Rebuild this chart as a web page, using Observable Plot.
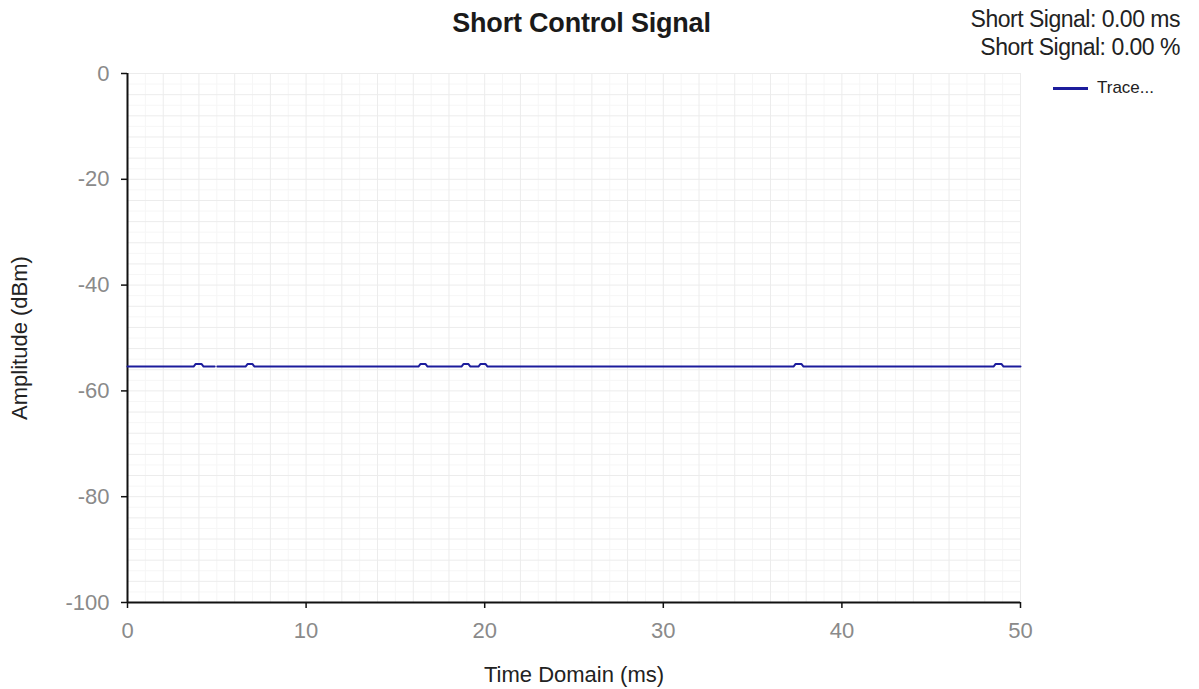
<!DOCTYPE html>
<html>
<head>
<meta charset="utf-8">
<script src="https://cdn.jsdelivr.net/npm/d3@7"></script>
<script src="https://cdn.jsdelivr.net/npm/@observablehq/plot@0.6"></script>
<style>
  html, body { margin: 0; padding: 0; background: #fff; }
  #wrap { position: relative; width: 1199px; height: 689px; font-family: "Liberation Sans", Arial, sans-serif; }
  .ov { position: absolute; white-space: nowrap; color: #222; }
  #title { left: 0; width: 1163px; top: 8px; text-align: center; font-weight: bold; font-size: 27px; color: #1a1a1a; letter-spacing: -0.2px; }
  .stat { right: 19px; font-size: 23px; letter-spacing: -0.5px; }
  #legend { left: 1053px; top: 78px; font-size: 17px; display: flex; align-items: center; }
  #legend .sw { width: 35px; height: 3px; background: #1c1c9c; margin-right: 9px; }
</style>
</head>
<body>
<div id="wrap">
  <div id="chart"></div>
  <div id="title" class="ov">Short Control Signal</div>
  <div class="ov stat" style="top:6px">Short Signal: 0.00 ms</div>
  <div class="ov stat" style="top:34px">Short Signal: 0.00 %</div>
  <div id="legend" class="ov"><span class="sw"></span><span>Trace...</span></div>
</div>
<script>
// Trace samples: time (ms) and amplitude (dBm); null = gap in trace
const time = [0, 3.70, 3.82, 4.14, 4.26, 4.88, 4.95, 5.03, 6.61, 6.73, 6.99, 7.11,
  16.29, 16.41, 16.68, 16.80, 18.70, 18.82, 19.08, 19.20, 19.65, 19.77, 20.04, 20.16,
  37.29, 37.41, 37.73, 37.85, 48.49, 48.61, 48.93, 49.05, 50];
const amplitude = [-55.4, -55.4, -54.9, -54.9, -55.4, -55.4, null, -55.4, -55.4, -54.9, -54.9, -55.4,
  -55.4, -54.9, -54.9, -55.4, -55.4, -54.9, -54.9, -55.4, -55.4, -54.9, -54.9, -55.4,
  -55.4, -54.9, -54.9, -55.4, -55.4, -54.9, -54.9, -55.4, -55.4];
const xTicks = [0, 10, 20, 30, 40, 50];
const yTicks = [0, -20, -40, -60, -80, -100];
const xMajorGrid = [2, 4, 6, 8, 10, 12, 14, 16, 18, 20, 22, 24, 26, 28, 30, 32, 34, 36, 38, 40, 42, 44, 46, 48, 50];
const yMajorGrid = [0, -4, -8, -12, -16, -20, -24, -28, -32, -36, -40, -44, -48, -52, -56, -60, -64, -68, -72, -76, -80, -84, -88, -92, -96];
const xMinorGrid = [1, 3, 5, 7, 9, 11, 13, 15, 17, 19, 21, 23, 25, 27, 29, 31, 33, 35, 37, 39, 41, 43, 45, 47, 49];
const yMinorGrid = [-2, -6, -10, -14, -18, -22, -26, -30, -34, -38, -42, -46, -50, -54, -58, -62, -66, -70, -74, -78, -82, -86, -90, -94, -98];

const data = time.map((t, i) => ({t, a: amplitude[i]}));

const chart = Plot.plot({
  width: 1199,
  height: 689,
  marginLeft: 127,
  marginRight: 179,
  marginTop: 73,
  marginBottom: 87,
  style: {fontFamily: "'Liberation Sans', Arial, sans-serif", fontSize: "22px", background: "#fff", overflow: "visible"},
  x: {domain: [0, 50]},
  y: {domain: [-100, 0]},
  marks: [
    Plot.ruleX(xMinorGrid, {stroke: "#f6f6f6", strokeWidth: 1}),
    Plot.ruleY(yMinorGrid, {stroke: "#f6f6f6", strokeWidth: 1}),
    Plot.ruleX(xMajorGrid, {stroke: "#ececec", strokeWidth: 1}),
    Plot.ruleY(yMajorGrid, {stroke: "#ececec", strokeWidth: 1}),
    Plot.axisX({ticks: xTicks, tickSize: 6, tickPadding: 14, stroke: "#111", strokeWidth: 1.5, color: "#8a8a8a",
      tickFormat: d => String(d),
      label: "Time Domain (ms)", labelAnchor: "center", labelArrow: "none", labelOffset: 79}),
    Plot.axisY({ticks: yTicks, tickSize: 6, tickPadding: 12, stroke: "#111", strokeWidth: 1.5, color: "#8a8a8a",
      tickFormat: d => String(d),
      label: "Amplitude (dBm)", labelAnchor: "center", labelArrow: "none", labelOffset: 116}),
    Plot.ruleY([-100], {stroke: "#111", strokeWidth: 2}),
    Plot.ruleX([0], {stroke: "#111", strokeWidth: 2}),
    Plot.line(data, {x: "t", y: "a", stroke: "#1c1c9c", strokeWidth: 2, strokeLinejoin: "round"})
  ]
});
document.getElementById("chart").appendChild(chart);
chart.querySelectorAll("g[aria-label='x-axis label'] text, g[aria-label='y-axis label'] text").forEach(t => { t.setAttribute("fill", "#222"); t.style.fontSize = "22px"; });
chart.querySelectorAll("g[aria-label='x-axis label'], g[aria-label='y-axis label']").forEach(g => g.setAttribute("fill", "#222"));
</script>
</body>
</html>
